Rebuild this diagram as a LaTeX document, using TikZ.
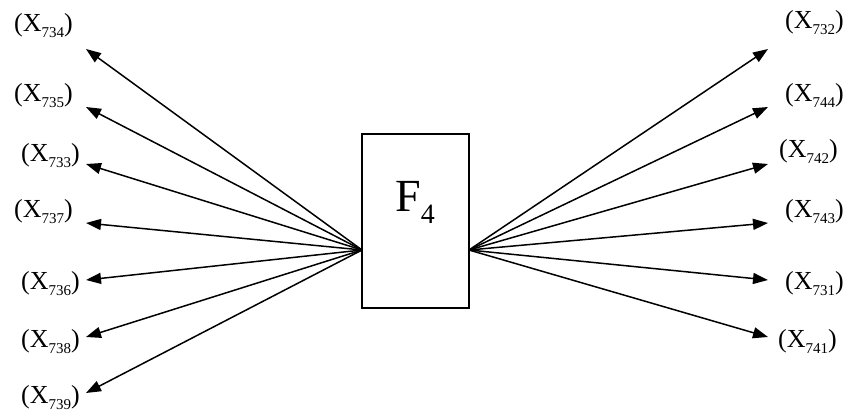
\documentclass[tikz,border=0pt]{standalone}
\usepackage{fontspec}
\setmainfont{Liberation Serif}
\usetikzlibrary{arrows.meta}
\newcommand{\varlab}[1]{(X\raisebox{-6pt}{\fontsize{15}{15}\selectfont #1})}
\tikzset{
  varnode/.style={inner sep=0pt, font=\fontsize{26}{30}\selectfont},
  factorbox/.style={draw, line width=1.5pt, minimum width=107pt, minimum height=174pt, inner sep=0pt},
  loadarrow/.style={-{Triangle[length=15pt,width=11pt]}, line width=1.5pt}
}
\begin{document}
\begin{tikzpicture}[x=1pt, y=-1pt]
\useasboundingbox (0,0) rectangle (853,419);
\node[factorbox] (f4) at (415.5,221) {};
\node[inner sep=0pt, anchor=base, font=\fontsize{46}{50}\selectfont] (f4lab) at (415,212) {F\raisebox{-12pt}{\fontsize{28}{28}\selectfont 4}};
\coordinate (lsrc) at (362,250);
\coordinate (rsrc) at (469,250);
% left side
\foreach \id/\tipy/\basey/\edgex in {734/49/32/73, 735/107/102/73, 733/164/162/80, 737/223/218/73, 736/280/290/80, 738/337/347/80, 739/393/403/80}{
  \node[varnode, anchor=base east] (x\id) at (\edgex,\basey) {\varlab{\id}};
  \coordinate (t\id) at (86,\tipy);
  \draw[loadarrow] (lsrc) -- (t\id);
}
% right side
\foreach \id/\tipy/\basey/\edgex in {732/49/29/785, 744/107/102/785, 742/164/158/779, 743/223/218/785, 731/280/290/785, 741/337/347/778}{
  \node[varnode, anchor=base west] (x\id) at (\edgex,\basey) {\varlab{\id}};
  \coordinate (t\id) at (768,\tipy);
  \draw[loadarrow] (rsrc) -- (t\id);
}
\end{tikzpicture}
\end{document}
